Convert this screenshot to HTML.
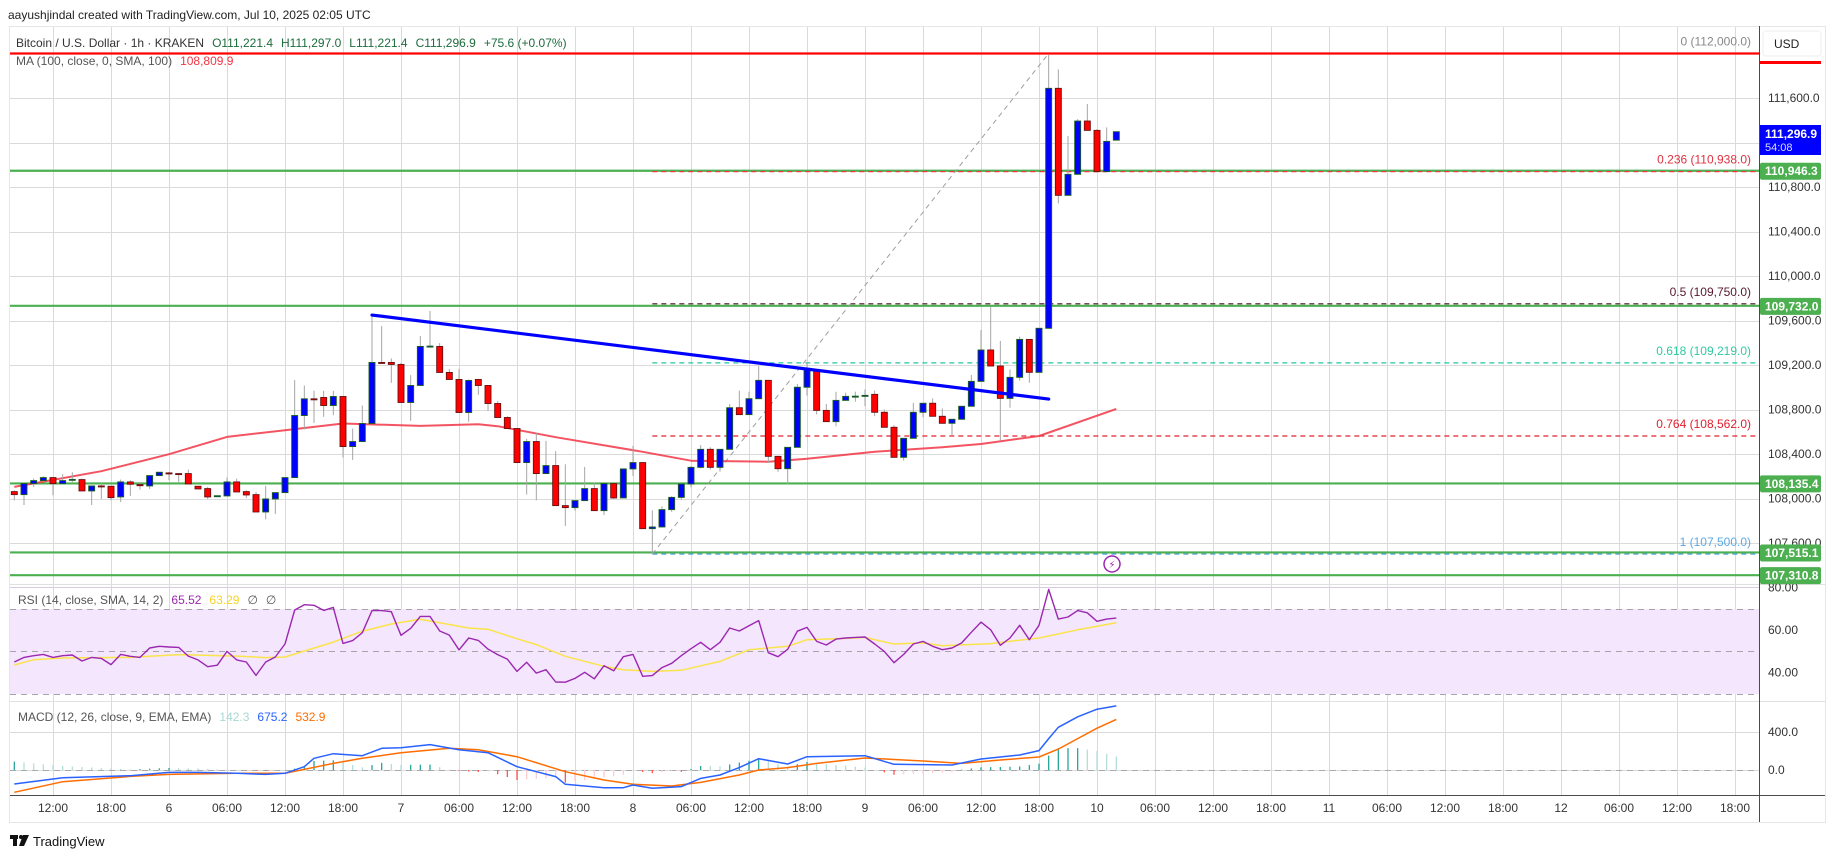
<!DOCTYPE html>
<html><head><meta charset="utf-8"><title>BTCUSD 1h chart</title>
<style>
html,body{margin:0;padding:0;background:#fff;}
svg{display:block;font-family:"Liberation Sans","DejaVu Sans",sans-serif;}
</style></head>
<body>
<svg id="chart" width="1835" height="858" viewBox="0 0 1835 858" xmlns="http://www.w3.org/2000/svg">
  <rect x="0" y="0" width="1835" height="858" fill="#ffffff"/>
  <text x="8" y="19" font-size="12" fill="#222">aayushjindal created with TradingView.com, Jul 10, 2025 02:05 UTC</text>
  <rect x="9.5" y="26.5" width="1816" height="796" fill="none" stroke="#e6e6e6"/>
  <g id="grid"></g>
  <rect x="10" y="609" width="1749" height="85" fill="#f3e6fd"/>
  <g id="rsiGuides"></g>
  <g id="levels"></g>
  <g id="fib"></g>
  <g id="ma"></g>
  <g id="candles"></g>
  <g id="trend"></g>
  <g id="rsi"></g>
  <g id="macd"></g>
  <line x1="10" y1="584.5" x2="1825" y2="584.5" stroke="#e0e0e0"/>
  <line x1="10" y1="701.5" x2="1825" y2="701.5" stroke="#e0e0e0"/>
  <line x1="1759.5" y1="26" x2="1759.5" y2="822" stroke="#4a4a4a"/>
  <line x1="10" y1="795.5" x2="1825" y2="795.5" stroke="#4a4a4a"/>
  <g id="axis"></g>
  <g id="taxis"></g>
  <text x="16" y="47" font-size="12" fill="#333">Bitcoin / U.S. Dollar · 1h · KRAKEN<tspan fill="#1e6b3c" dx="8">O111,221.4</tspan><tspan fill="#1e6b3c" dx="8">H111,297.0</tspan><tspan fill="#1e6b3c" dx="8">L111,221.4</tspan><tspan fill="#1e6b3c" dx="8">C111,296.9</tspan><tspan fill="#1e6b3c" dx="8">+75.6 (+0.07%)</tspan></text>
  <text x="16" y="65" font-size="12" fill="#555">MA (100, close, 0, SMA, 100)<tspan fill="#f23645" dx="8">108,809.9</tspan></text>
  <text x="18" y="604" font-size="12" fill="#555">RSI (14, close, SMA, 14, 2)<tspan fill="#9c27b0" dx="8">65.52</tspan><tspan fill="#f5d327" dx="8">63.29</tspan><tspan fill="#555" dx="8">∅</tspan><tspan fill="#555" dx="8">∅</tspan></text>
  <text x="18" y="721" font-size="12" fill="#555">MACD (12, 26, close, 9, EMA, EMA)<tspan fill="#a8d8d3" dx="8">142.3</tspan><tspan fill="#2962ff" dx="8">675.2</tspan><tspan fill="#ff6d00" dx="8">532.9</tspan></text>
  <rect x="1763" y="31" width="58" height="25" rx="3" fill="#fff" stroke="#eee"/>
  <text x="1774" y="48" font-size="12" fill="#222">USD</text>
  <rect x="1759" y="61" width="62" height="3" fill="#ff0000"/>
  <g>
    <circle cx="1112" cy="564" r="8" fill="#fff" stroke="#9c27b0" stroke-width="1.5"/>
    <text x="1112" y="568" font-size="10" fill="#9c27b0" text-anchor="middle">⚡</text>
  </g>
  <g>
    <rect x="10" y="835" width="8" height="4" fill="#111"/><rect x="13" y="835" width="4" height="11" fill="#111"/>
    <circle cx="21" cy="837" r="2" fill="#111"/><polygon points="23,835 29,835 24,846 19,846" fill="#111"/>
    <text x="33" y="846" font-size="13" fill="#111">TradingView</text>
  </g>
</svg>
<script>
// ---------- data ----------
const startHour = -4; // first candle = Jul 5 08:00
const candleO = [108062,108035,108134,108161,108188,108134,108170,108170,108068,108113,108110,108014,108149,108125,108113,108206,108230,108224,108224,108110,108089,108023,108023,108149,108062,108035,107879,107996,108053,108188,108746,108896,108908,108836,108917,108467,108512,108674,109223,109223,109205,108863,109016,109367,109367,109133,109070,108773,109070,109016,108854,108728,108629,108323,108512,108224,108296,107936,107918,107981,108089,107891,108134,108005,108266,108323,107729,107744,107900,108010,108130,108280,108442,108280,108442,108816,108754,108897,109062,108379,108268,108460,109000,109155,108792,108691,108882,108918,108925,108936,108775,108640,108370,108541,108775,108856,108739,108676,108712,108829,109053,109335,109191,108900,109089,109430,109134,109530,111687,110725,110914,111393,111309,110938,111221];
const candleH = [108074,108134,108179,108200,108188,108218,108236,108179,108113,108140,108110,108170,108164,108149,108206,108236,108239,108224,108260,108110,108104,108023,108188,108179,108074,108059,108113,108053,108188,109064,109016,108968,108968,108968,108917,108629,108836,109649,109550,109259,109220,109109,109460,109685,109397,109163,109163,109070,109070,109016,108875,108740,108629,108536,108590,108518,108425,108308,107981,108284,108143,108134,108134,108266,108473,108323,107894,107930,108020,108140,108290,108480,108460,108442,108850,108970,108960,109190,109062,108379,108460,109030,109220,109155,108850,108960,108950,108960,108980,108970,108800,108660,108541,108860,108856,108900,108810,108712,108829,109110,109515,109724,109416,109160,109455,109430,109530,111986,111857,111258,111410,111546,111320,111336,111297];
const candleL = [107984,107942,108104,108149,108029,108134,108149,108068,107942,107996,107984,107969,108023,108080,108086,108206,108164,108149,108131,108086,107996,108023,108023,108059,108005,107879,107813,107861,108053,108188,108620,108680,108734,108749,108368,108347,108512,108674,109220,109040,108863,108698,109016,109367,109133,109133,108773,108689,108932,108788,108728,108629,108323,108035,107984,108224,107936,107753,107890,107981,107891,107852,107996,108005,108203,107729,107500,107740,107880,107990,108100,108270,108260,108240,108442,108754,108754,108897,108320,108240,108130,108460,108925,108755,108691,108650,108882,108870,108830,108740,108640,108370,108340,108541,108730,108739,108676,108570,108712,108829,109053,109191,108520,108816,109060,109040,109134,109530,110653,110725,110914,111309,110938,110938,111221];
const candleC = [108035,108134,108161,108188,108134,108161,108172,108068,108113,108108,108008,108149,108128,108115,108206,108236,108221,108222,108131,108086,108014,108025,108149,108059,108032,107879,107996,108053,108188,108746,108896,108890,108836,108917,108467,108512,108674,109223,109220,109205,108863,109016,109367,109370,109133,109070,108773,109061,109016,108854,108728,108629,108323,108512,108224,108296,107936,107918,107981,108089,107891,108134,108005,108266,108323,107729,107744,107900,108010,108130,108280,108442,108280,108442,108816,108754,108897,109062,108379,108268,108460,109000,109170,108792,108691,108882,108918,108920,108927,108775,108640,108370,108541,108775,108856,108739,108676,108712,108829,109053,109335,109191,108900,109089,109430,109134,109530,111687,110725,110914,111393,111309,110938,111210,111297];
const maHours = [-4,5,12,18,24,30,38,44,46,52,61,66,74,78,85,92,96,102,110];
const maValues = [108104,108245,108398,108554,108614,108674,108653,108668,108650,108551,108420,108340,108331,108358,108421,108460,108490,108562,108805];
const trendHours = [33,103];
const trendPrices = [109649,108894];
const priceTicks = [111600,111200,110800,110400,110000,109600,109200,108800,108400,108000,107600];
const priceTickLabels = ["111,600.0","","110,800.0","110,400.0","110,000.0","109,600.0","109,200.0","108,800.0","108,400.0","108,000.0","107,600.0"];
const levelPrices = [110946.3,109732.0,108135.4,107515.1,107310.8];
const levelLabels = ["110,946.3","109,732.0","108,135.4","107,515.1","107,310.8"];
const fibRatios = ["0","0.236","0.5","0.618","0.764","1"];
const fibPrices = [112000,110938,109750,109219,108562,107500];
const fibColors = ["#ff0000","#f23645","#4a1020","#22c7a0","#e0202e","#5aa9e6"];
const fibLabelColors = ["#888","#e03040","#5a1830","#30c8a0","#e0202e","#5aa9e6"];
const fibStartHour = 62, fibEndHour = 103;
const rsiValues = [44.8,47.0,47.8,48.4,47.0,47.8,48.1,45.3,47.0,46.5,43.6,48.4,47.5,47.0,51.4,52.2,51.9,51.7,47.6,45.8,42.6,43.3,49.8,45.8,44.8,38.5,44.8,47.2,53.3,69.3,71.8,71.5,69.1,70.5,53.6,54.9,58.6,69.0,69.0,68.5,57.4,60.7,66.3,66.3,59.4,57.5,50.5,56.1,55.0,50.9,48.3,46.2,40.4,
44.7,39.6,41.2,35.4,35.3,37.1,40.0,36.9,43.1,40.7,47.3,48.4,38.1,38.4,42.2,44.2,47.8,51.1,54.1,50.6,54.1,60.8,59.4,61.9,64.3,49.2,47.3,50.8,59.3,61.1,54.5,52.8,55.6,56.1,56.4,56.6,53.3,49.8,44.5,48.4,53.3,54.5,52.2,50.6,51.4,53.8,58.8,63.6,60.0,52.7,56.1,62.1,55.3,62.1,
79,65,66,69,68,64,65,65.5];
const rsiSmaHours = [-4,-2,1,8,13,19,22,24,29,32,35,38,43,45,48,50,53,57,59,62,65,69,72,76,78,83,84,87,90,92,97,102,106,110];
const rsiSmaValues = [43.4,45.9,46.7,47.0,48.3,47.6,46.9,47.2,54.2,59.3,62.7,64.9,60.8,60.2,55.8,53.0,47.5,42.8,41.2,40.4,40.9,45.1,50.6,52.2,55.3,56.1,56.4,53.3,53.8,52.5,53.5,56.1,60.0,63.3];
const rsiTicks = [80,60,40];
const macdHours = [-4,1,8,12,15,19,22,24,26,27,29,32,34,36,39,42,45,48,52,53,57,59,60,62,65,67,69,71,73,76,78,84,87,93,96,100,102,103,104,106,108,110];
const macdValues = [-147,-81,-60,-25,-25,-35,-46,-35,35,123,172,151,228,235,267,214,182,35,-70,-151,-186,-186,-158,-193,-175,-88,-53,25,119,63,140,151,60,53,116,158,204,330,450,560,640,675];
const signalHours = [-4,1,8,12,19,24,29,32,36,41,44,48,53,57,60,64,67,71,73,76,79,84,90,94,98,102,104,106,108,110];
const signalValues = [-235,-123,-67,-46,-35,-35,70,123,182,228,214,140,-18,-105,-151,-168,-130,-53,0,25,70,126,95,70,105,137,220,330,440,533];
const macdTicks = [400,0];
const macdTickLabels = ["400.0","0.0"];
const timeTickLabels = ["12:00","18:00","6","06:00","12:00","18:00","7","06:00","12:00","18:00","8","06:00","12:00","18:00","9","06:00","12:00","18:00","10","06:00","12:00","18:00","11","06:00","12:00","18:00","12","06:00","12:00","18:00"];
const timeTickHours = [0,6,12,18,24,30,36,42,48,54,60,66,72,78,84,90,96,102,108,114,120,126,132,138,144,150,156,162,168,174];

// ---------- scales ----------
const NS = "http://www.w3.org/2000/svg";
const X0 = 53, PX_PER_HOUR = 58/6, LEFT = 10, RIGHT = 1759;
function xOf(h){ return X0 + h*PX_PER_HOUR; }
function yPrice(p){ return 276 - (p-110000)*0.11125; }
function yRsi(v){ return 651 - (v-50)*2.125; }
function yMacd(v){ return 770 - v*0.095; }
function mk(tag, attrs, parent){ const e=document.createElementNS(NS,tag); for(const k in attrs) e.setAttribute(k,attrs[k]); parent.appendChild(e); return e; }
function interp(hs, vs, h){ if(h<=hs[0]) return vs[0]; for(let i=1;i<hs.length;i++){ if(h<=hs[i]){ const t=(h-hs[i-1])/(hs[i]-hs[i-1]); return vs[i-1]+t*(vs[i]-vs[i-1]); } } return vs[vs.length-1]; }

// ---------- grid ----------
const grid = document.getElementById('grid');
timeTickHours.forEach(function(h){
  const x = Math.round(xOf(h))+0.5;
  const l = mk('line',{x1:x,y1:27,x2:x,y2:795,stroke:'#dadada'},grid);
  
  
});
priceTicks.forEach(function(p){
  const y = Math.round(yPrice(p))+0.5;
  const l = mk('line',{x1:LEFT,y1:y,x2:RIGHT,y2:y,stroke:'#dadada'},grid);
  
  
});
rsiTicks.forEach(function(v){
  const y = Math.round(yRsi(v))+0.5;
  const l = mk('line',{x1:LEFT,y1:y,x2:RIGHT,y2:y,stroke:'#d6cbe0'},grid);
  
  
});
macdTicks.forEach(function(v){
  const y = Math.round(yMacd(v))+0.5;
  const l = mk('line',{x1:LEFT,y1:y,x2:RIGHT,y2:y,stroke:'#dadada'},grid);
  
  
});
// rsi guides 70/50/30 and macd zero
const rg = document.getElementById('rsiGuides');
[70,50,30].forEach(function(v){
  const y = Math.round(yRsi(v))+0.5;
  const l = mk('line',{x1:LEFT,y1:y,x2:RIGHT,y2:y,stroke:'#a9a2ad','stroke-dasharray':'6 5'},rg);
  
  
});
{
  const y = Math.round(yMacd(0))+0.5;
  const l = mk('line',{x1:LEFT,y1:y,x2:RIGHT,y2:y,stroke:'#a9a9a9','stroke-dasharray':'6 5'},rg);
  
  
}

// ---------- horizontal levels ----------
const lv = document.getElementById('levels');
{
  const y = yPrice(112000);
  const l = mk('line',{x1:LEFT,y1:y,x2:RIGHT,y2:y,stroke:'#ff0000','stroke-width':2.2},lv);
  
  
}
levelPrices.forEach(function(p){
  const y = yPrice(p);
  const l = mk('line',{x1:LEFT,y1:y,x2:RIGHT,y2:y,stroke:'#4caf50','stroke-width':2.2},lv);
  
  
});

// ---------- fib ----------
const fib = document.getElementById('fib');
fibPrices.forEach(function(p,i){
  const y = yPrice(p);
  const l = mk('line',{x1:xOf(fibStartHour),y1:y,x2:RIGHT,y2:y,stroke:fibColors[i],'stroke-width':1.2,'stroke-dasharray':'5 4'},fib);
  
  
  const t = mk('text',{x:1751,y:y-8,'font-size':12,fill:fibLabelColors[i],'text-anchor':'end'},fib);
  t.textContent = fibRatios[i]+' ('+p.toLocaleString('en-US')+'.0)';
  
  
});
{
  const l = mk('line',{x1:xOf(fibStartHour),y1:yPrice(fibPrices[5]),x2:xOf(fibEndHour),y2:yPrice(fibPrices[0]),stroke:'#9e9e9e','stroke-width':1,'stroke-dasharray':'5 4'},fib);
  
  
}

// ---------- MA ----------
{
  const pts = maHours.map(function(h,i){ return xOf(h).toFixed(1)+','+yPrice(maValues[i]).toFixed(1); }).join(' ');
  const pl = mk('polyline',{points:pts,fill:'none',stroke:'#f23645','stroke-width':2,'stroke-linejoin':'round','stroke-opacity':0.85},document.getElementById('ma'));
  
  
}

// ---------- candles ----------
const cg = document.getElementById('candles');
candleO.forEach(function(o,i){
  const h = startHour + i, x = xOf(h), c = candleC[i];
  const up = c >= o;
  const w = mk('line',{x1:x,y1:yPrice(candleH[i]),x2:x,y2:yPrice(candleL[i]),stroke:'#a6a6a6','stroke-width':1},cg);
  
  
  const top = yPrice(Math.max(o,c)), bot = yPrice(Math.min(o,c));
  const r = mk('rect',{x:x-3,y:top,width:6,height:Math.max(1,bot-top),fill:up?'#0000ff':'#ff0000',stroke:up?'#1b5e20':'#6b1010','stroke-width':0.9},cg);
  
  
});

// ---------- trendline ----------
{
  const l = mk('line',{x1:xOf(trendHours[0]),y1:yPrice(trendPrices[0]),x2:xOf(trendHours[1]),y2:yPrice(trendPrices[1]),stroke:'#0000ff','stroke-width':3.2,'stroke-linecap':'round'},document.getElementById('trend'));
  
  
}

// ---------- RSI ----------
{
  const g = document.getElementById('rsi');
  const pts = rsiValues.map(function(v,i){ return xOf(startHour+i).toFixed(1)+','+yRsi(v).toFixed(1); }).join(' ');
  const sm = rsiSmaHours.map(function(h,i){ return xOf(h).toFixed(1)+','+yRsi(rsiSmaValues[i]).toFixed(1); }).join(' ');
  const s = mk('polyline',{points:sm,fill:'none',stroke:'#fbe44a','stroke-width':1.5,'stroke-linejoin':'round'},g);
  
  
  const r = mk('polyline',{points:pts,fill:'none',stroke:'#9c27b0','stroke-width':1.4,'stroke-linejoin':'round'},g);
  
  
}

// ---------- MACD ----------
{
  const g = document.getElementById('macd');
  let prev = null;
  for(let i=0;i<candleO.length;i++){
    const h = startHour+i;
    const v = interp(macdHours,macdValues,h) - interp(signalHours,signalValues,h);
    let col;
    if(v>=0) col = (prev===null||v>=prev)?'#26a69a':'#b2dfdb'; else col = (prev===null||v<=prev)?'#ff5252':'#ffcdd2';
    prev = v;
    const b = mk('line',{x1:xOf(h),y1:yMacd(0),x2:xOf(h),y2:yMacd(v),stroke:col,'stroke-width':1.3},g);
    
    
  }
  const sp = signalHours.map(function(h,i){ return xOf(h).toFixed(1)+','+yMacd(signalValues[i]).toFixed(1); }).join(' ');
  const mp = macdHours.map(function(h,i){ return xOf(h).toFixed(1)+','+yMacd(macdValues[i]).toFixed(1); }).join(' ');
  const s = mk('polyline',{points:sp,fill:'none',stroke:'#ff6d00','stroke-width':1.5,'stroke-linejoin':'round'},g);
  
  
  const m = mk('polyline',{points:mp,fill:'none',stroke:'#2962ff','stroke-width':1.5,'stroke-linejoin':'round'},g);
  
  
}

// ---------- price axis ----------
const ax = document.getElementById('axis');
priceTicks.forEach(function(p,i){
  if(!priceTickLabels[i]) return;
  const t = mk('text',{x:1768,y:yPrice(p)+4,'font-size':12,fill:'#333'},ax);
  t.textContent = priceTickLabels[i];
  
  
});
rsiTicks.forEach(function(v){
  const t = mk('text',{x:1768,y:yRsi(v)+4,'font-size':12,fill:'#333'},ax);
  t.textContent = v.toFixed(2);
  
  
});
macdTicks.forEach(function(v,i){
  const t = mk('text',{x:1768,y:yMacd(v)+4,'font-size':12,fill:'#333'},ax);
  t.textContent = macdTickLabels[i];
  
  
});
levelPrices.forEach(function(p,i){
  const y = yPrice(p);
  const r = mk('rect',{x:1760,y:y-8,width:61,height:17,rx:2,fill:'#4caf50'},ax);
  
  
  const t = mk('text',{x:1765,y:y+4.5,'font-size':12,'font-weight':'bold',fill:'#fff'},ax);
  t.textContent = levelLabels[i];
  
  
});
{
  const r = mk('rect',{x:1760,y:125,width:61,height:30,fill:'#0000ff'},ax);
  
  
  const t1 = mk('text',{x:1765,y:138,'font-size':12,'font-weight':'bold',fill:'#fff'},ax);
  t1.textContent = '111,296.9';
  
  
  const t2 = mk('text',{x:1765,y:151,'font-size':11,fill:'#dcdcff'},ax);
  t2.textContent = '54:08';
  
  
}

// ---------- time axis ----------
const ta = document.getElementById('taxis');
timeTickHours.forEach(function(h,i){
  const t = mk('text',{x:xOf(h),y:812,'font-size':12,fill:'#333','text-anchor':'middle'},ta);
  t.textContent = timeTickLabels[i];
  
  
});
</script>
</body></html>
